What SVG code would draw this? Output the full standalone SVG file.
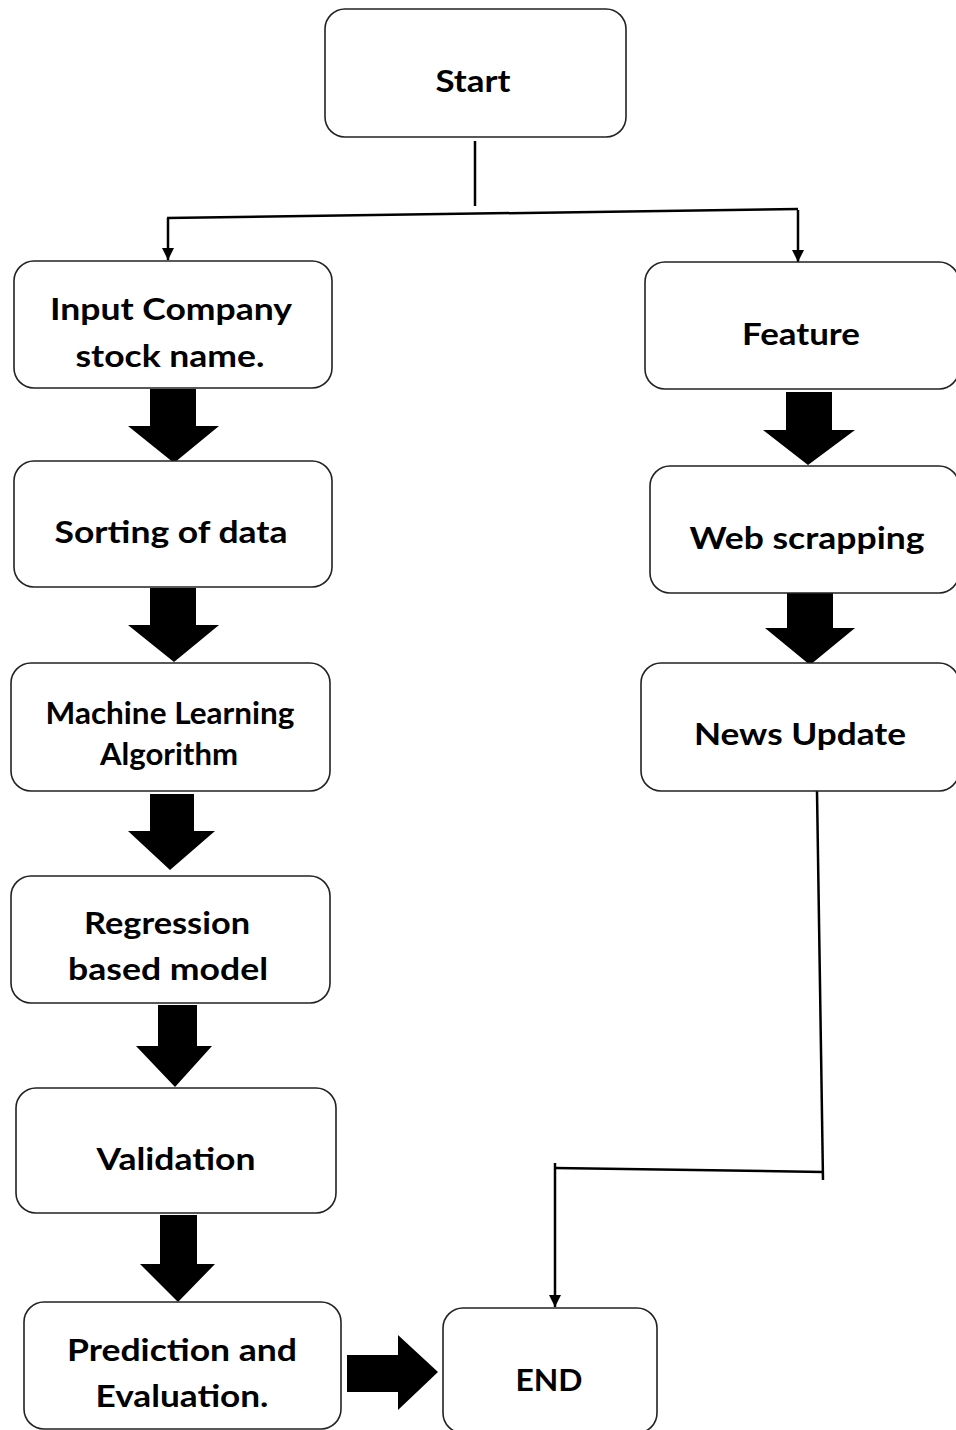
<svg xmlns="http://www.w3.org/2000/svg" width="956" height="1430" viewBox="0 0 956 1430">
<defs>
<style>
.box{fill:#fff;stroke:#222;stroke-width:1.6}
.t{font-family:Lato,"Liberation Sans",sans-serif;font-weight:bold;font-size:30px;fill:#000;text-anchor:middle}
.ln{stroke:#000;stroke-width:2.5;fill:none}
.blk{fill:#000}
</style>
<marker id="ah" viewBox="0 0 10 10" refX="10" refY="5" markerWidth="5" markerHeight="5" orient="auto" markerUnits="strokeWidth">
<path d="M0,0 L10,5 L0,10 z" fill="#000"/>
</marker>
</defs>
<rect width="956" height="1430" fill="#fff"/>
<g id="connectors">
<line class="ln" x1="475" y1="141" x2="475" y2="206"/>
<line class="ln" x1="167" y1="218" x2="798" y2="209"/>
<line class="ln" x1="168" y1="218" x2="168" y2="260" marker-end="url(#ah)"/>
<line class="ln" x1="798" y1="210" x2="798" y2="262" marker-end="url(#ah)"/>
<line class="ln" x1="817" y1="791" x2="823" y2="1180"/>
<line class="ln" x1="823" y1="1172" x2="555" y2="1168"/>
<line class="ln" x1="555" y1="1163" x2="555" y2="1307" marker-end="url(#ah)"/>
<polygon class="blk" points="150,389 196,389 196,426 219,426 174,463 128,426 150,426"/>
<polygon class="blk" points="150,588 196,588 196,625 219,625 174,662 128,625 150,625"/>
<polygon class="blk" points="150,794 194,794 194,831 215,831 170,870 128,831 150,831"/>
<polygon class="blk" points="158,1005 197,1005 197,1046 212,1046 175,1087 136,1046 158,1046"/>
<polygon class="blk" points="160,1215 197,1215 197,1264 215,1264 178,1302 140,1264 160,1264"/>
<polygon class="blk" points="786,392 832,392 832,430 855,430 808,465 763,430 786,430"/>
<polygon class="blk" points="787,590 833,590 833,628 855,628 810,665 765,628 787,628"/>
<polygon class="blk" points="347,1355 398,1355 398,1335 438,1372 398,1410 398,1392 347,1392"/>
</g>
<g id="start"><rect class="box" x="325" y="9" width="301" height="128" rx="20"/><text class="t" x="473" y="92" textLength="75" lengthAdjust="spacingAndGlyphs">Start</text></g>
<g id="input"><rect class="box" x="14" y="261" width="318" height="127" rx="20"/><text class="t" x="171" y="320" textLength="242" lengthAdjust="spacingAndGlyphs">Input Company</text><text class="t" x="170" y="367" textLength="189" lengthAdjust="spacingAndGlyphs">stock name.</text></g>
<g id="sorting"><rect class="box" x="14" y="461" width="318" height="126" rx="20"/><text class="t" x="171" y="543" textLength="233" lengthAdjust="spacingAndGlyphs">Sorting of data</text></g>
<g id="ml"><rect class="box" x="11" y="663" width="319" height="128" rx="20"/><text class="t" x="170" y="724" font-size="28" textLength="249" lengthAdjust="spacingAndGlyphs">Machine Learning</text><text class="t" x="169" y="765" font-size="28" textLength="138" lengthAdjust="spacingAndGlyphs">Algorithm</text></g>
<g id="regression"><rect class="box" x="11" y="876" width="319" height="127" rx="20"/><text class="t" x="167" y="934" textLength="166" lengthAdjust="spacingAndGlyphs">Regression</text><text class="t" x="168" y="980" textLength="200" lengthAdjust="spacingAndGlyphs">based model</text></g>
<g id="validation"><rect class="box" x="16" y="1088" width="320" height="125" rx="20"/><text class="t" x="176" y="1170" textLength="159" lengthAdjust="spacingAndGlyphs">Validation</text></g>
<g id="prediction"><rect class="box" x="24" y="1302" width="317" height="127" rx="20"/><text class="t" x="182" y="1361" textLength="230" lengthAdjust="spacingAndGlyphs">Prediction and</text><text class="t" x="182" y="1407" textLength="173" lengthAdjust="spacingAndGlyphs">Evaluation.</text></g>
<g id="end"><rect class="box" x="443" y="1308" width="214" height="125" rx="20"/><text class="t" x="549" y="1391" textLength="67" lengthAdjust="spacingAndGlyphs">END</text></g>
<g id="feature"><rect class="box" x="645" y="262" width="314" height="127" rx="20"/><text class="t" x="801" y="345" textLength="118" lengthAdjust="spacingAndGlyphs">Feature</text></g>
<g id="web"><rect class="box" x="650" y="466" width="309" height="127" rx="20"/><text class="t" x="807" y="549" textLength="235" lengthAdjust="spacingAndGlyphs">Web scrapping</text></g>
<g id="news"><rect class="box" x="641" y="663" width="318" height="128" rx="20"/><text class="t" x="800" y="745" textLength="212" lengthAdjust="spacingAndGlyphs">News Update</text></g>
</svg>
